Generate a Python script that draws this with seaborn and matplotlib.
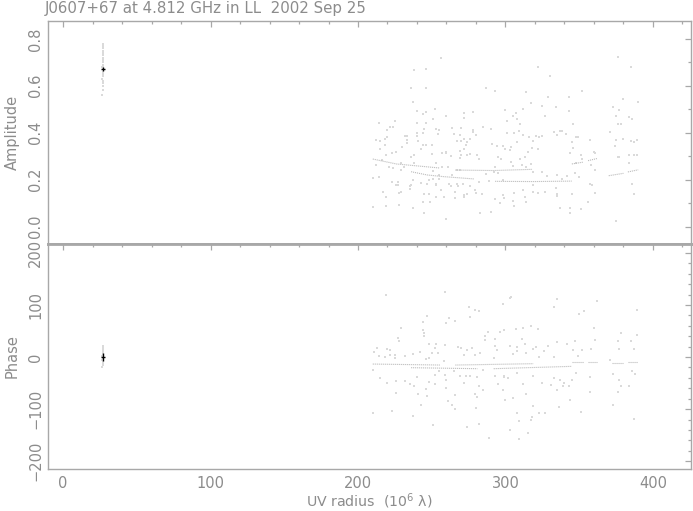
import numpy as np
import pandas as pd
import matplotlib
matplotlib.use("Agg")
import matplotlib.pyplot as plt
import seaborn as sns
from matplotlib.ticker import MultipleLocator

sns.set_style("white")
plt.rcParams['font.family'] = ['DejaVu Sans']

title = "J0607+67 at 4.812 GHz in LL  2002 Sep 25"

# ---- short-baseline cluster (UV radius ~27) ----
short_uv = [26.6, 26.9, 27.2, 26.8, 27.1, 26.7, 27.0, 27.3, 26.9, 27.1, 26.8, 27.0,
            27.2, 26.7, 27.0, 26.9, 27.1, 26.8, 27.2, 27.0, 26.9, 27.1, 26.8, 27.0]
short_amp = [0.56, 0.58, 0.60, 0.61, 0.62, 0.63, 0.64, 0.65, 0.66, 0.66, 0.67, 0.67,
             0.68, 0.68, 0.69, 0.70, 0.71, 0.72, 0.73, 0.74, 0.75, 0.76, 0.77, 0.78]
short_phase = [-20, -15, -12, -10, -8, -6, -5, -4, -3, -2, -1, 0,
               1, 2, 3, 4, 5, 6, 8, 10, 12, 15, 18, 22]
short_mean_uv = 27.0
short_mean_amp = 0.672
short_mean_phase = 0.0

# ---- long-baseline scatter: amplitude ----
amp_uv = [256, 238, 246, 236, 246, 237, 240, 246, 252, 244, 251, 260, 214, 225, 222, 220,
          224, 240, 245, 253, 255, 240, 244, 212, 215, 218, 220, 232, 240, 233, 241, 244,
          246, 230, 218, 215, 243, 250, 223, 219, 226, 236, 238, 250, 257, 260, 253, 229,
          210, 214, 227, 235, 236, 247, 253, 248, 217, 229, 253, 244, 219, 210, 228, 237,
          245, 260, 249, 265, 269, 267, 270, 272, 273, 276, 278, 280, 278, 270, 272, 272,
          278, 287, 293, 285, 290, 291, 294, 295, 297, 300, 301, 305, 307, 308, 310, 312,
          314, 317, 322, 330, 329, 325, 327, 333, 337, 338, 335, 341, 346, 343, 334, 343,
          352, 349, 348, 345, 346, 351, 352, 344, 316, 319, 321, 325, 323, 322, 318, 315,
          313, 310, 311, 305, 304, 303, 304, 308, 312, 309, 306, 301, 298, 300, 293, 292,
          295, 298, 289, 287, 281, 282, 274, 276, 270, 269, 263, 267, 264, 269, 263, 271,
          267, 276, 272, 274, 283, 290, 284, 293, 298, 306, 312, 313, 314, 305, 306, 319,
          319, 322, 327, 334, 335, 335, 345, 344, 337, 351, 344, 356, 361, 359, 357, 357,
          360, 361, 371, 373, 377, 375, 376, 378, 380, 384, 386, 390, 385, 376, 375, 374,
          376, 377, 380, 385, 387, 389, 384, 387, 389, 384, 386, 387, 375, 361, 358, 348,
          347, 342, 350, 335, 338, 328, 319, 325, 314, 317, 296, 299, 282, 279, 280, 266,
          272, 258, 256, 253, 261, 262, 266, 268, 245, 233, 228, 226, 223, 219, 227, 235,
          237, 243, 248, 251, 257, 260, 251, 255, 255, 238, 231, 221, 224, 229, 212, 216,
          233, 246, 254, 272, 264, 269, 274]
amp_val = [0.720, 0.667, 0.670, 0.589, 0.589, 0.529, 0.494, 0.490, 0.500, 0.480, 0.457, 0.470,
           0.440, 0.449, 0.423, 0.410, 0.423, 0.440, 0.417, 0.414, 0.412, 0.397, 0.397, 0.369,
           0.366, 0.375, 0.380, 0.386, 0.385, 0.369, 0.363, 0.346, 0.346, 0.341, 0.346, 0.331,
           0.331, 0.346, 0.315, 0.307, 0.317, 0.297, 0.305, 0.310, 0.312, 0.318, 0.273, 0.240,
           0.207, 0.210, 0.176, 0.161, 0.179, 0.183, 0.176, 0.139, 0.146, 0.146, 0.128, 0.107,
           0.088, 0.083, 0.091, 0.078, 0.060, 0.032, 0.107, 0.393, 0.392, 0.366, 0.366, 0.375,
           0.348, 0.372, 0.402, 0.389, 0.412, 0.419, 0.463, 0.483, 0.488, 0.589, 0.576, 0.423,
           0.414, 0.352, 0.344, 0.298, 0.288, 0.495, 0.448, 0.471, 0.485, 0.457, 0.439, 0.502,
           0.573, 0.525, 0.682, 0.641, 0.551, 0.515, 0.471, 0.403, 0.409, 0.406, 0.392, 0.393,
           0.439, 0.492, 0.511, 0.553, 0.576, 0.380, 0.380, 0.362, 0.336, 0.304, 0.290, 0.312,
           0.383, 0.366, 0.386, 0.386, 0.380, 0.331, 0.336, 0.318, 0.298, 0.288, 0.261, 0.257,
           0.275, 0.327, 0.341, 0.359, 0.389, 0.409, 0.397, 0.397, 0.344, 0.332, 0.256, 0.234,
           0.227, 0.199, 0.193, 0.224, 0.304, 0.290, 0.305, 0.308, 0.304, 0.291, 0.302, 0.241,
           0.220, 0.243, 0.171, 0.181, 0.183, 0.175, 0.135, 0.137, 0.057, 0.064, 0.138, 0.118,
           0.134, 0.142, 0.155, 0.125, 0.105, 0.108, 0.086, 0.176, 0.148, 0.142, 0.146, 0.166,
           0.138, 0.132, 0.137, 0.078, 0.078, 0.077, 0.059, 0.104, 0.142, 0.178, 0.182, 0.369,
           0.319, 0.315, 0.402, 0.508, 0.497, 0.471, 0.437, 0.436, 0.542, 0.466, 0.458, 0.529,
           0.682, 0.721, 0.369, 0.344, 0.298, 0.295, 0.375, 0.363, 0.361, 0.368, 0.305, 0.304,
           0.307, 0.270, 0.181, 0.138, 0.026, 0.241, 0.264, 0.273, 0.227, 0.216, 0.213, 0.220,
           0.205, 0.216, 0.233, 0.232, 0.256, 0.267, 0.101, 0.122, 0.188, 0.154, 0.142, 0.124,
           0.128, 0.128, 0.156, 0.182, 0.256, 0.182, 0.149, 0.171, 0.139, 0.388, 0.142, 0.176,
           0.188, 0.128, 0.190, 0.175, 0.199, 0.185, 0.199, 0.203, 0.256, 0.315, 0.239, 0.222,
           0.202, 0.273, 0.256, 0.256, 0.250, 0.273, 0.264, 0.283, 0.355, 0.440, 0.396, 0.331,
           0.419, 0.322, 0.362]

# ---- long-baseline scatter: phase ----
ph_uv = [219, 259, 304, 303, 298, 275, 279, 282, 276, 247, 244, 262, 266, 260, 229, 245,
         245, 244, 227, 228, 248, 253, 252, 259, 220, 222, 213, 211, 214, 218, 222, 225,
         225, 232, 237, 242, 250, 254, 248, 246, 258, 268, 270, 274, 277, 272, 279, 283,
         286, 286, 288, 293, 296, 299, 307, 312, 317, 322, 293, 294, 292, 303, 305, 308,
         308, 311, 313, 314, 319, 321, 323, 326, 329, 333, 333, 335, 335, 342, 347, 350,
         353, 362, 360, 361, 358, 346, 352, 349, 376, 377, 378, 385, 387, 389, 389, 371,
         210, 220, 226, 223, 210, 237, 232, 235, 238, 240, 243, 241, 247, 251, 248, 252,
         255, 260, 261, 264, 266, 266, 272, 273, 276, 280, 282, 274, 279, 281, 285, 289,
         293, 295, 299, 299, 298, 300, 303, 305, 308, 309, 309, 312, 314, 315, 317, 318,
         319, 319, 323, 327, 325, 331, 335, 336, 339, 343, 344, 345, 351, 348, 357, 357,
         373, 377, 378, 376, 373, 384, 386, 387, 388, 333, 337, 340, 308, 302, 281, 285,
         282, 260, 259, 252, 246, 265, 269, 226, 215]
ph_val = [118.6, 125.6, 116.0, 113.5, 101.4, 96.9, 89.9, 88.0, 77.8, 78.4, 66.9, 74.6,
          68.8, 65.0, 55.4, 45.9, 39.5, 52.2, 35.7, 31.2, 24.2, 25.4, 17.1, 22.9,
          15.2, 13.9, 16.5, 8.9, 1.2, -0.1, 3.8, 4.4, -1.4, 1.8, 5.0, 8.9,
          7.6, 7.6, -1.4, -3.9, -7.7, 19.1, 17.8, 13.9, 17.8, 3.8, 3.1, 7.0,
          33.1, 39.5, 48.4, 34.4, 47.8, 51.6, 53.5, 55.4, 59.3, 53.5, 20.3, 13.3,
          -2.0, 21.0, 5.7, 19.1, 11.4, 34.4, 25.4, 7.6, 15.9, 19.7, 0.0, 10.8,
          20.3, -0.7, 96.3, 110.9, 28.6, 24.2, 30.6, 82.9, 88.6, 107.1, 56.1, 33.1,
          15.9, 13.3, 13.9, 1.8, 30.6, 15.9, 45.9, 29.9, 15.9, 41.4, 90.5, -5.2,
          -25.6, -49.8, -69.0, -104.1, -107.3, -113.6, -46.7, -51.8, -56.2, -38.4, -91.3, -70.9,
          -74.1, -129.6, -47.9, -35.2, -27.5, -59.4, -84.3, -92.6, -99.6, -72.2, -49.8, -37.1,
          -37.1, -97.7, -127.7, -134.1, -70.3, -76.6, -63.2, -155.1, -35.9, -51.1, -35.9, -38.4,
          -62.6, -81.7, -139.2, -79.2, -107.3, -123.2, -157.0, -51.8, -70.3, -145.5, -120.0, -114.9,
          -93.2, -37.1, -107.3, -107.3, -49.8, -53.0, -62.6, -95.8, -56.2, -56.2, -81.7, -43.5,
          -106.0, -30.7, -38.4, -67.7, -32.0, -43.5, -56.2, -67.1, -91.3, -56.2, -27.5, -118.1,
          -32.6, -40.9, -43.5, -49.8, -30.7, -40.2, -38.4, -24.3, -56.2, -43.5, -35.2, -51.1,
          -61.3, -27.5, -37.1, -46.7, -40.2]

# ---- dense tracks (vertices read along each track) ----
trk_amp_id = [1, 1, 1, 2, 2, 2, 2, 3, 3, 3, 4, 4, 4, 5, 5, 6, 6, 7, 7, 8, 8]
trk_amp_uv = [210, 226, 255, 236, 247, 258, 279, 266, 292, 318, 293, 319, 345,
              345, 353, 356, 362, 370, 380, 383, 390]
trk_amp_val = [0.288, 0.267, 0.250, 0.234, 0.220, 0.213, 0.203, 0.241, 0.239, 0.244,
               0.193, 0.192, 0.194, 0.267, 0.275, 0.281, 0.290, 0.217, 0.227, 0.233, 0.242]

trk_ph_id = [1, 1, 2, 2, 3, 3, 4, 4, 5, 5, 6, 6, 7, 7, 8, 8]
trk_ph_uv = [210, 256, 236, 281, 266, 319, 292, 345, 345, 353, 356, 362, 372, 380, 383, 390]
trk_ph_val = [-13.5, -15.4, -20.5, -22.4, -15.4, -12.8, -22.4, -17.9,
              -9.6, -9.6, -9.6, -9.6, -11.6, -11.6, -9.6, -9.6]

# ------------------------------------------------------------------
df_amp = pd.DataFrame({"uv": short_uv + amp_uv, "val": short_amp + amp_val})
df_ph = pd.DataFrame({"uv": short_uv + ph_uv, "val": short_phase + ph_val})
df_tamp = pd.DataFrame({"id": trk_amp_id, "uv": trk_amp_uv, "val": trk_amp_val})
df_tph = pd.DataFrame({"id": trk_ph_id, "uv": trk_ph_uv, "val": trk_ph_val})

fig = plt.figure(figsize=(6.93, 5.11), dpi=100)
ax1 = fig.add_axes([48 / 693, 1 - 244 / 511, 643 / 693, 223 / 511])
ax2 = fig.add_axes([48 / 693, 1 - 469 / 511, 643 / 693, 225 / 511], sharex=ax1)

frame = "#a8a8a8"
txt = "#8c8c8c"
dot = "#dadada"
trk = "#bcbcbc"

for ax, df, dft in ((ax1, df_amp, df_tamp), (ax2, df_ph, df_tph)):
    sns.scatterplot(data=df, x="uv", y="val", ax=ax, marker="s", s=1.0,
                    color=dot, linewidth=0, legend=False)
    sns.lineplot(data=dft, x="uv", y="val", units="id", estimator=None, sort=False,
                 ax=ax, color=trk, linewidth=0.8, linestyle=(0, (1.0, 0.8)), legend=False)
    ax.set_xlabel("")
    ax.set_ylabel("")

ax1.errorbar([short_mean_uv], [short_mean_amp], xerr=1.6, yerr=0.010,
             color="black", linewidth=1.0, capsize=0)
ax2.errorbar([short_mean_uv], [short_mean_phase], xerr=1.6, yerr=7,
             color="black", linewidth=1.0, capsize=0)

ax1.set_xlim(-10.2, 425.8)
ax1.set_ylim(-0.074, 0.876)
ax2.set_ylim(-215, 217)

ax1.xaxis.set_major_locator(MultipleLocator(100))
ax1.xaxis.set_minor_locator(MultipleLocator(20))
ax1.yaxis.set_minor_locator(MultipleLocator(0.1))
ax2.yaxis.set_minor_locator(MultipleLocator(20))

for ax in (ax1, ax2):
    for sp in ax.spines.values():
        sp.set_color(frame)
        sp.set_linewidth(1.0)
    ax.tick_params(which="both", direction="in", top=True, right=True,
                   color=frame, labelcolor=txt, labelsize=10.5, width=0.9)
    ax.tick_params(which="major", length=4.0)
    ax.tick_params(which="minor", length=2.2)

ax1.spines["bottom"].set_linewidth(2.0)
ax2.spines["top"].set_linewidth(2.0)
ax1.tick_params(labelbottom=False)
ax2.tick_params(axis="x", pad=5)

ax1.set_yticks([0.0, 0.2, 0.4, 0.6, 0.8])
ax1.set_yticklabels(["0.0", "0.2", "0.4", "0.6", "0.8"], rotation=90, va="center")
ax2.set_yticks([-200, -100, 0, 100, 200])
ax2.set_yticklabels(["\u2212200", "\u2212100", "0", "100", "200"], rotation=90, va="center")

ax1.set_ylabel("Amplitude", color=txt, fontsize=10.5, labelpad=6)
ax2.set_ylabel("Phase", color=txt, fontsize=10.5, labelpad=6)
ax2.set_xlabel("UV radius  (10$^{6}$ \u03bb)", color=txt, fontsize=10.2, labelpad=0)

fig.text(45 / 693, 1 - 9 / 511, title, color=txt, fontsize=10.8, ha="left", va="center")

fig.savefig("out.png", dpi=100)
